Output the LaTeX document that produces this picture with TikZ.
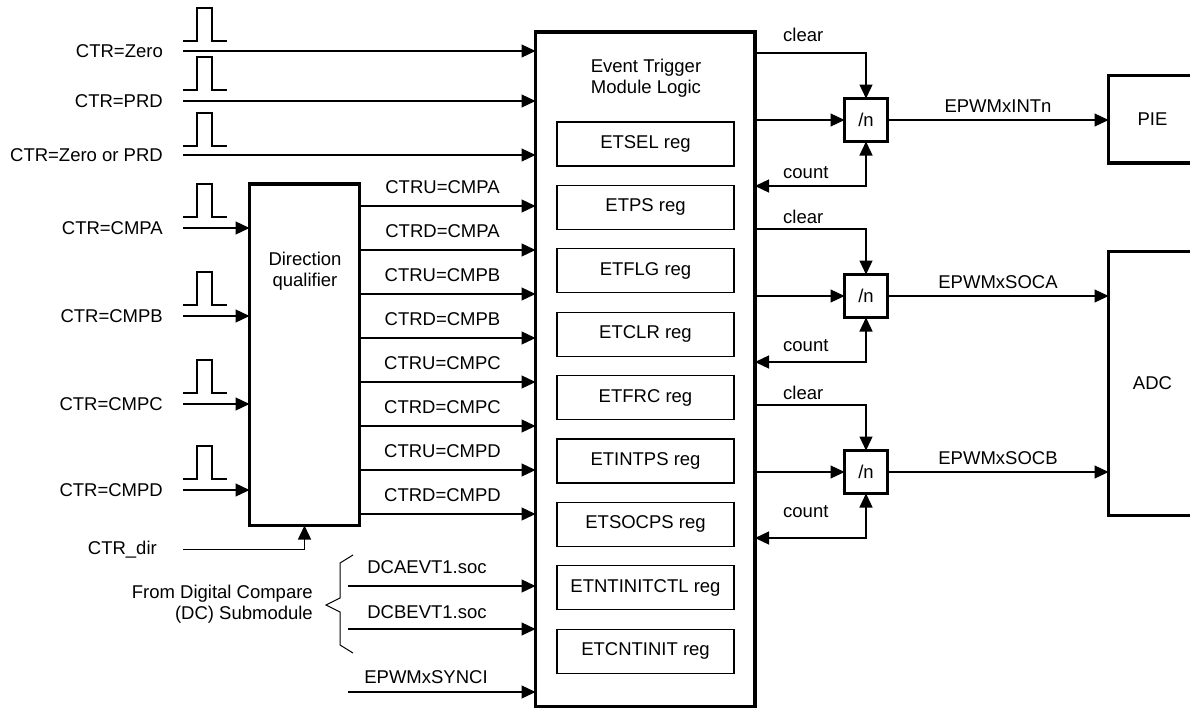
\documentclass[tikz,border=0pt]{standalone}
\usepackage{fontspec}
\setmainfont{Liberation Sans}
\usetikzlibrary{arrows.meta,positioning,calc}
\newcommand\dfont{\fontsize{18.5}{21}\selectfont}
% small square pulse drawn above an input line
\newcommand\pulseat[2]{\draw[pulse] (#1,#2) -- ++(14,0) -- ++(0,-33) -- ++(15,0) -- ++(0,33) -- ++(15,0);}

\begin{document}
\begin{tikzpicture}[x=1pt,y=-1pt,>={Triangle[length=14pt,width=13pt]},
  lbl/.style={font=\dfont,inner sep=2pt},
  sig/.style={->,line width=1.3pt},
  pulse/.style={line width=1.3pt},
  thickbox/.style={draw,line width=3.5pt,inner sep=0pt,outer sep=0pt,font=\dfont},
  regbox/.style={draw,line width=1.3pt,inner sep=0pt,outer sep=0pt,minimum width=177pt,minimum height=44pt,font=\dfont},
  divbox/.style={thickbox,minimum size=43pt}]
\useasboundingbox (0,0) rectangle (1190,709);
\clip (0,0) rectangle (1190,709);

% main blocks
\node[thickbox,minimum width=219.5pt,minimum height=674.5pt] (et) at (645.25,369.25) {};
\node[lbl,align=center] (ettitle) at (646,78) {Event Trigger\\Module Logic};
\foreach \r [count=\i from 0] in {ETSEL,ETPS,ETFLG,ETCLR,ETFRC,ETINTPS,ETSOCPS,ETNTINITCTL,ETCNTINIT}
  \node[regbox] (reg\i) at (645.5,144+63.4*\i) {\r{} reg};
\node[thickbox,minimum width=110pt,minimum height=341.5pt] (dq) at (304.5,354.75) {};
\node[lbl,align=center] (dqlab) at (305,271) {Direction\\qualifier};
\node[thickbox,minimum width=88pt,minimum height=87.5pt] (pie) at (1152.5,119.25) {PIE};
\node[thickbox,minimum width=88pt,minimum height=264pt] (adc) at (1152.5,383.5) {ADC};

% counter events straight into the module
\foreach \lab/\y/\b/\nm in {CTR=Zero/51/41/zero,CTR=PRD/101/90/prd,CTR=Zero or PRD/155/146/zprd}{
  \node[lbl,anchor=east] (\nm) at (165,\y) {\lab};
  \pulseat{183}{\b}
  \draw[sig] ([xshift=18pt]\nm.east) -- (\nm -| et.west);
}

% compare events into the direction qualifier
\foreach \lab/\y/\nm in {CTR=CMPA/228/cmpa,CTR=CMPB/316/cmpb,CTR=CMPC/404/cmpc,CTR=CMPD/490/cmpd}{
  \node[lbl,anchor=east] (\nm) at (165,\y) {\lab};
  \pulseat{183}{\y-11}
  \draw[sig] ([xshift=18pt]\nm.east) -- (\nm -| dq.west);
}
\node[lbl,anchor=east] (dir) at (159,549.5) {CTR\_dir};
\draw[sig] ([xshift=24pt]dir.east) -| (dq.south);

% qualified outputs
\foreach \lab [count=\i from 0] in {CTRU=CMPA,CTRD=CMPA,CTRU=CMPB,CTRD=CMPB,CTRU=CMPC,CTRD=CMPC,CTRU=CMPD,CTRD=CMPD}{
  \pgfmathsetmacro\yy{206+44*\i}
  \coordinate (q\i) at (0,\yy);
  \draw[sig] (dq.east |- q\i) -- (et.west |- q\i) node[lbl,midway,above=9.4pt,xshift=-5pt] {\lab};
}

% digital compare inputs
\node[lbl,anchor=east,align=right] (dcsrc) at (315,604) {From Digital Compare\\(DC) Submodule};
\draw[line width=1pt] (353,555) -- (340,563) -- (340,598) -- (326,605) -- (340,612) -- (340,645) -- (353,653);
\node[lbl] (dcalab) at (427,567) {DCAEVT1.soc};
\node[lbl] (dcblab) at (427,612) {DCBEVT1.soc};
\node[lbl] (synclab) at (426,677) {EPWMxSYNCI};
\coordinate (dcain) at (348,586);
\coordinate (dcbin) at (348,629);
\coordinate (syncin) at (348,692);
\draw[sig] (dcain) -- (dcain -| et.west);
\draw[sig] (dcbin) -- (dcbin -| et.west);
\draw[sig] (syncin) -- (syncin -| et.west);

% prescalers and outputs
\foreach \n/\y/\cy/\ky/\out/\tgt in {1/120/35/173/EPWMxINTn/pie,2/296/217/346/EPWMxSOCA/adc,3/472/393/512/EPWMxSOCB/adc}{
  \node[divbox] (div\n) at (866,\y) {/n};
  \node[lbl,anchor=west] (clr\n) at (781,\cy) {clear};
  \node[lbl,anchor=west] (cnt\n) at (781,\ky) {count};
  \draw[sig] ($(et.east |- div\n)+(0,-67)$) -| (div\n.north);
  \draw[sig] (et.east |- div\n) -- (div\n.west);
  \draw[<->,line width=1.3pt] (div\n.south) |- ($(et.east |- div\n)+(0,66)$);
  \draw[sig] (div\n.east) -- (div\n.east -| \tgt.west) node[lbl,midway,above=4.4pt] {\out};
}
\end{tikzpicture}
\end{document}
